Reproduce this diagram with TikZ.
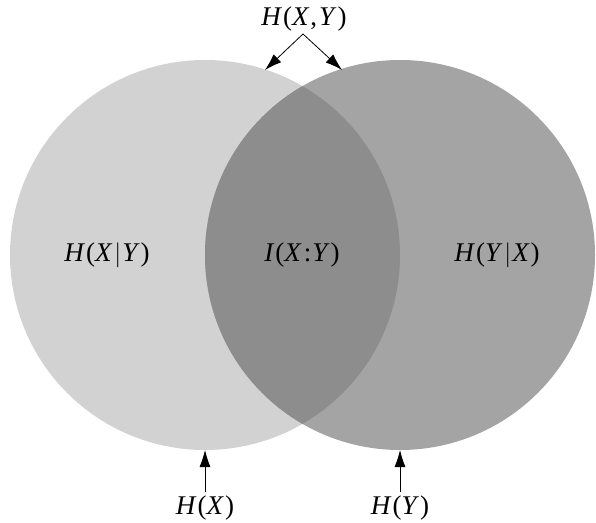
\documentclass[tikz,border=0pt]{standalone}
\usepackage{fontspec}
\setmainfont{Liberation Serif}
\usetikzlibrary{arrows.meta}
\newcommand{\mi}[1]{\textit{#1}\kern1pt}
\definecolor{lgray}{RGB}{210,210,210}
\definecolor{rgray}{RGB}{164,164,164}
\definecolor{mgray}{RGB}{141,141,141}
\begin{document}
\begin{tikzpicture}[x=1pt,y=1pt,
  lbl/.style={font=\fontsize{27}{30}\selectfont, inner sep=0pt},
  arr/.style={line width=0.8pt, -{Latex[length=17pt,width=11pt]}}]
\useasboundingbox (0,0) rectangle (596,522);
\fill[lgray] (205,267) circle (195);
\fill[rgray] (400,267) circle (195);
\begin{scope}
  \clip (205,267) circle (195);
  \fill[mgray] (400,267) circle (195);
\end{scope}
\node[lbl] (hxy) at (107,267) {\mi{H}(\mi{X}\kern1pt$|$\kern1pt\mi{Y})};
\node[lbl] (ixy) at (302,267) {\mi{I}(\mi{X}\kern1pt:\kern1pt\mi{Y})};
\node[lbl] (hyx) at (497,267) {\mi{H}(\mi{Y}\kern1pt$|$\kern1pt\mi{X})};
\node[lbl] (hjoint) at (304,503) {\mi{H}(\mi{X},\kern2pt\mi{Y})};
\node[lbl] (hx) at (205,14) {\mi{H}(\mi{X})};
\node[lbl] (hy) at (400,14) {\mi{H}(\mi{Y})};
\coordinate (top) at (303,488);
\coordinate (tl) at (265,452);
\coordinate (tr) at (342,452);
\coordinate (bx) at (205,72);
\coordinate (by) at (400,72);
\draw[arr] (top) -- (tl);
\draw[arr] (top) -- (tr);
\draw[arr] (hx.north) ++(0,4) coordinate (hxs) (hxs) -- (bx);
\draw[arr] (hy.north) ++(0,4) coordinate (hys) (hys) -- (by);
\end{tikzpicture}
\end{document}
